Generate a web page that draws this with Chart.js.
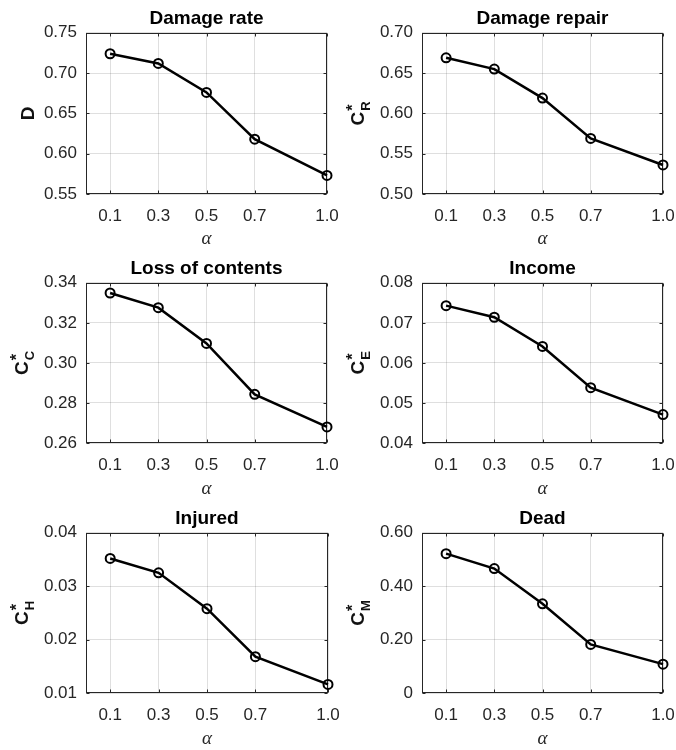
<!DOCTYPE html>
<html><head><meta charset="utf-8">
<script src="https://cdn.jsdelivr.net/npm/chart.js@4"></script>
<style>
html,body{margin:0;padding:0;background:#fff;}
#wrap{position:relative;width:676px;height:750px;overflow:hidden;background:#fff;}
canvas{position:absolute;}
</style></head><body><div id="wrap">
<canvas id="c1" width="350" height="250" style="left:0px;top:0px"></canvas>
<canvas id="c2" width="338" height="250" style="left:338px;top:0px"></canvas>
<canvas id="c3" width="350" height="250" style="left:0px;top:250px"></canvas>
<canvas id="c4" width="338" height="250" style="left:338px;top:250px"></canvas>
<canvas id="c5" width="350" height="250" style="left:0px;top:500px"></canvas>
<canvas id="c6" width="338" height="250" style="left:338px;top:500px"></canvas>
</div>
<script>
// ---- data ----
const alphaValues = [0.1, 0.3, 0.5, 0.7, 1.0];
const xTickLabels = ['0.1', '0.3', '0.5', '0.7', '1.0'];
const xAxisTitle = 'α';

const titles = ['Damage rate', 'Damage repair', 'Loss of contents', 'Income', 'Injured', 'Dead'];

const damageRate     = [0.724, 0.712, 0.676, 0.618, 0.573];
const damageRepair   = [0.669, 0.655, 0.619, 0.569, 0.536];
const lossOfContents = [0.3349, 0.3276, 0.3097, 0.2843, 0.2680];
const income         = [0.0743, 0.0714, 0.0641, 0.0538, 0.0471];
const injured        = [0.0352, 0.0325, 0.0258, 0.0168, 0.0116];
const dead           = [0.522, 0.466, 0.334, 0.182, 0.108];

const yTicksD  = [0.55, 0.60, 0.65, 0.70, 0.75];
const yLabelsD = ['0.55', '0.60', '0.65', '0.70', '0.75'];
const yTicksR  = [0.50, 0.55, 0.60, 0.65, 0.70];
const yLabelsR = ['0.50', '0.55', '0.60', '0.65', '0.70'];
const yTicksC  = [0.26, 0.28, 0.30, 0.32, 0.34];
const yLabelsC = ['0.26', '0.28', '0.30', '0.32', '0.34'];
const yTicksE  = [0.04, 0.05, 0.06, 0.07, 0.08];
const yLabelsE = ['0.04', '0.05', '0.06', '0.07', '0.08'];
const yTicksH  = [0.01, 0.02, 0.03, 0.04];
const yLabelsH = ['0.01', '0.02', '0.03', '0.04'];
const yTicksM  = [0, 0.20, 0.40, 0.60];
const yLabelsM = ['0', '0.20', '0.40', '0.60'];

const yAxisLabels = [
  {main: 'D'},
  {main: 'C', sub: 'R', sup: '*'},
  {main: 'C', sub: 'C', sup: '*'},
  {main: 'C', sub: 'E', sup: '*'},
  {main: 'C', sub: 'H', sup: '*'},
  {main: 'C', sub: 'M', sup: '*'}
];

// ---- layout ----
const panels = [
  {id: 'c1', data: damageRate,     yt: yTicksD, yl: yLabelsD, plotLeft: 86, padRight: 23, bottom: 194},
  {id: 'c2', data: damageRepair,   yt: yTicksR, yl: yLabelsR, plotLeft: 84, padRight: 13, bottom: 194},
  {id: 'c3', data: lossOfContents, yt: yTicksC, yl: yLabelsC, plotLeft: 86, padRight: 23, bottom: 193},
  {id: 'c4', data: income,         yt: yTicksE, yl: yLabelsE, plotLeft: 84, padRight: 13, bottom: 193},
  {id: 'c5', data: injured,        yt: yTicksH, yl: yLabelsH, plotLeft: 86, padRight: 22, bottom: 193},
  {id: 'c6', data: dead,           yt: yTicksM, yl: yLabelsM, plotLeft: 84, padRight: 13, bottom: 193}
];

const AXIS = '#262626';
const GRID = 'rgba(38,38,38,0.15)';
const SANS = '"Liberation Sans", Arial, sans-serif';

const boxPlugin = {
  id: 'box',
  beforeDatasetsDraw(chart) {
    const {ctx, chartArea: a, scales} = chart;
    ctx.save();
    ctx.strokeStyle = AXIS;
    ctx.lineWidth = 1;
    const L = Math.round(a.left) + 0.5, R = Math.round(a.right) - 0.5;
    const T = Math.round(a.top) + 0.5, B = Math.round(a.bottom) - 0.5;
    ctx.strokeRect(L, T, R - L, B - T);
    const tl = 3;
    ctx.beginPath();
    scales.x.ticks.forEach(t => {
      const px = Math.round(scales.x.getPixelForValue(t.value)) + 0.5;
      ctx.moveTo(px, B); ctx.lineTo(px, B - tl);
      ctx.moveTo(px, T); ctx.lineTo(px, T + tl);
    });
    scales.y.ticks.forEach(t => {
      const py = Math.round(scales.y.getPixelForValue(t.value)) + 0.5;
      ctx.moveTo(L, py); ctx.lineTo(L + tl, py);
      ctx.moveTo(R, py); ctx.lineTo(R - tl, py);
    });
    ctx.stroke();
    ctx.restore();
  }
};

const yLabelPlugin = {
  id: 'ylab',
  afterDraw(chart, args, opts) {
    const lab = opts.label;
    if (!lab) return;
    const {ctx, chartArea} = chart;
    ctx.save();
    const mainFont = 'bold 19px ' + SANS;
    const subFont = 'bold 13px ' + SANS;
    const supFont = 'bold 16px ' + SANS;
    ctx.font = mainFont;
    const mw = ctx.measureText(lab.main).width;
    let sw = 0;
    if (lab.sub) { ctx.font = subFont; sw = Math.max(sw, ctx.measureText(lab.sub).width); }
    if (lab.sup) { ctx.font = supFont; sw = Math.max(sw, ctx.measureText(lab.sup).width); }
    const gap = lab.sub ? 1 : 0;
    const total = mw + gap + sw;
    const cy = (chartArea.top + chartArea.bottom) / 2;
    const baseX = chartArea.left - 52 - (lab.sub ? 6 : 0);
    ctx.translate(baseX, cy + total / 2);
    ctx.rotate(-Math.PI / 2);
    ctx.fillStyle = '#111';
    ctx.textBaseline = 'alphabetic';
    ctx.textAlign = 'left';
    ctx.font = mainFont;
    ctx.fillText(lab.main, 0, 0);
    if (lab.sub) { ctx.font = subFont; ctx.fillText(lab.sub, mw + gap, 6); }
    if (lab.sup) { ctx.font = supFont; ctx.fillText(lab.sup, mw + gap, -6); }
    ctx.restore();
  }
};

panels.forEach((p, i) => {
  const ctx = document.getElementById(p.id).getContext('2d');
  new Chart(ctx, {
    type: 'line',
    data: {
      datasets: [{
        data: alphaValues.map((x, k) => ({x: x, y: p.data[k]})),
        borderColor: '#000',
        borderWidth: 2.5,
        pointRadius: 4.5,
        pointBorderWidth: 2,
        pointBorderColor: '#000',
        pointBackgroundColor: 'rgba(0,0,0,0)',
        tension: 0,
        clip: false
      }]
    },
    options: {
      responsive: false,
      animation: false,
      devicePixelRatio: 1,
      layout: {padding: {left: 0, right: p.padRight, top: 0, bottom: 0}},
      plugins: {
        legend: {display: false},
        tooltip: {enabled: false},
        title: {
          display: true,
          text: titles[i],
          fullSize: false,
          color: '#000',
          font: {family: SANS, size: 19, weight: 'bold', lineHeight: 1.2},
          padding: {top: 7, bottom: 3}
        },
        ylab: {label: yAxisLabels[i]}
      },
      scales: {
        x: {
          type: 'linear',
          min: 0,
          max: 1,
          afterBuildTicks: s => { s.ticks = alphaValues.map(v => ({value: v})); },
          ticks: {
            callback: (v, idx) => xTickLabels[idx],
            color: AXIS,
            font: {family: SANS, size: 17},
            padding: 12,
            maxRotation: 0,
            autoSkip: false
          },
          grid: {color: GRID, drawTicks: false, lineWidth: 1},
          border: {display: false},
          title: {
            display: true,
            text: xAxisTitle,
            color: AXIS,
            font: {family: '"Liberation Serif", "DejaVu Serif", serif', size: 19, style: 'italic', lineHeight: 1.2},
            padding: {top: 0, bottom: 0}
          },
          afterFit: s => { s.height = 250 - p.bottom; s.paddingLeft = 0; s.paddingRight = 0; }
        },
        y: {
          type: 'linear',
          min: p.yt[0],
          max: p.yt[p.yt.length - 1],
          afterBuildTicks: s => { s.ticks = p.yt.map(v => ({value: v})); },
          ticks: {
            callback: (v, idx) => p.yl[idx],
            color: AXIS,
            font: {family: SANS, size: 17},
            padding: 9,
            autoSkip: false
          },
          grid: {color: GRID, drawTicks: false, lineWidth: 1},
          border: {display: false},
          afterFit: s => { s.width = p.plotLeft; s.paddingTop = 0; s.paddingBottom = 0; }
        }
      }
    },
    plugins: [boxPlugin, yLabelPlugin]
  });
});
</script>
</body></html>
